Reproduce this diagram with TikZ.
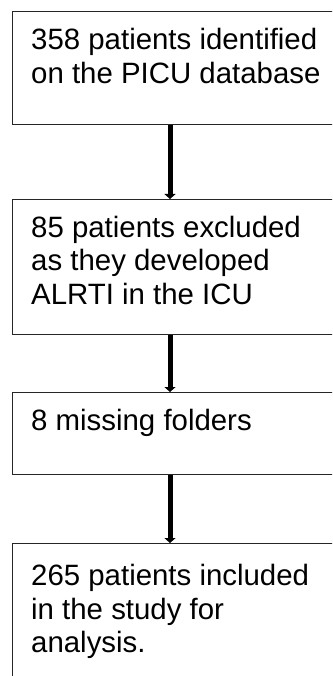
\documentclass[tikz,border=0pt]{standalone}
\usepackage{fontspec}
\setmainfont{Liberation Sans}
\usetikzlibrary{arrows.meta}
\begin{document}
\begin{tikzpicture}[x=1pt,y=-1pt,
  boxnode/.style={draw=black!85, line width=1.3pt, rectangle, inner sep=0pt, minimum width=340pt, anchor=north west},
  txt/.style={font=\fontsize{29.4}{33.5}\selectfont, align=left, anchor=north west, inner sep=0pt},
  flow/.style={line width=5pt, -{Triangle[width=11pt,length=5pt]}}]
\useasboundingbox (0,0) rectangle (332,676);
\clip (0,0) rectangle (332,676);
\fill[white] (0,0) rectangle (332,676);
\node[boxnode, minimum height=113pt] (b1) at (12,11) {};
\node[boxnode, minimum height=135pt] (b2) at (12,199) {};
\node[boxnode, minimum height=82pt] (b3) at (12,392) {};
\node[boxnode, minimum height=150pt] (b4) at (12,543) {};
\node[txt] (t1) at (31,49.5-24) {\rule{0pt}{24pt}358 patients identified\\on the PICU database};
\node[txt] (t2) at (31,237-24) {\rule{0pt}{24pt}85 patients excluded\\as they developed\\ALRTI in the ICU};
\node[txt] (t3) at (31,430-24) {\rule{0pt}{24pt}8 missing folders};
\node[txt] (t4) at (31,585.5-24) {\rule{0pt}{24pt}265 patients included\\in the study for\\analysis.};
\coordinate (ax) at (170,0);
\draw[flow] (b1.south -| ax) -- (b2.north -| ax);
\draw[flow] (b2.south -| ax) -- (b3.north -| ax);
\draw[flow] (b3.south -| ax) -- (b4.north -| ax);
\end{tikzpicture}
\end{document}
